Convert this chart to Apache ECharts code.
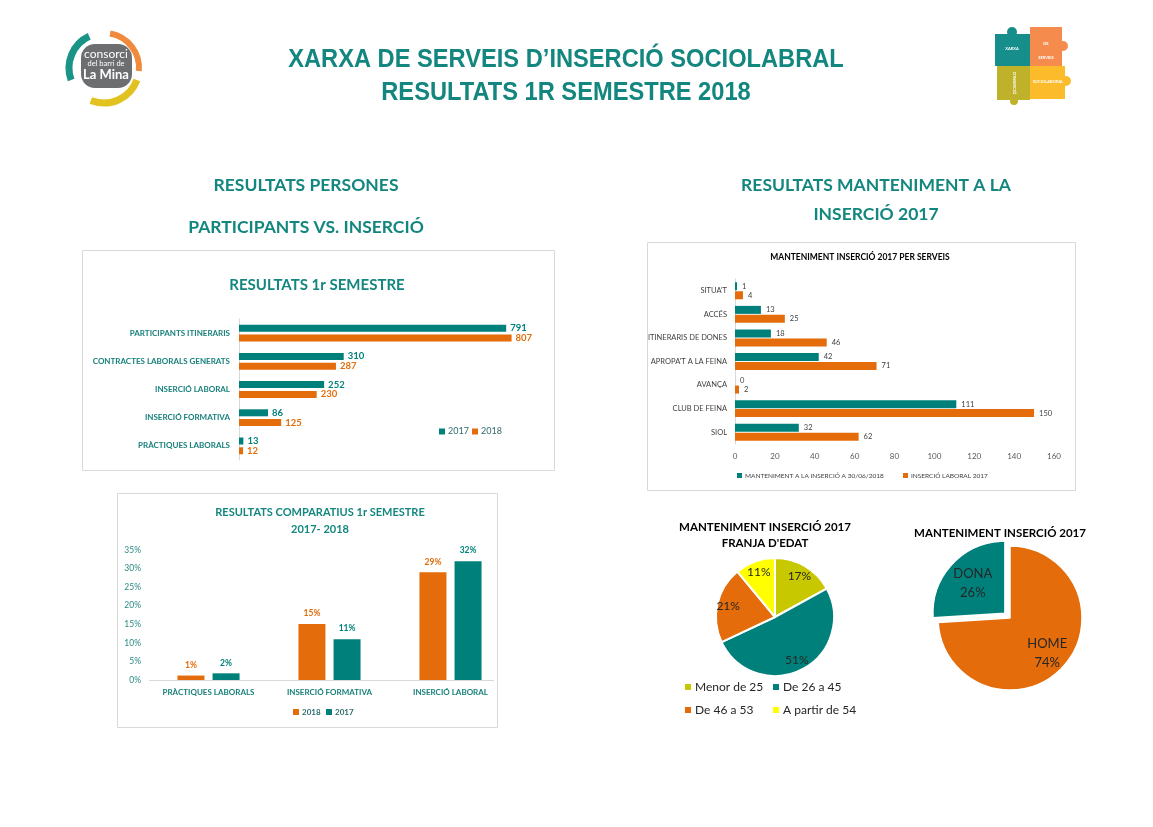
<!DOCTYPE html>
<html><head><meta charset="utf-8">
<script src="https://cdn.jsdelivr.net/npm/echarts@6/dist/echarts.min.js"></script>
<style>html,body{margin:0;padding:0;background:#fff}#c{width:1153px;height:827px}</style>
</head><body><div id="c"></div>
<script>
// ---- data ----
const resCategories = ['PARTICIPANTS ITINERARIS','CONTRACTES LABORALS GENERATS','INSERCIÓ LABORAL','INSERCIÓ FORMATIVA','PRÀCTIQUES LABORALS'];
const res2017 = [791, 310, 252, 86, 13];
const res2018 = [807, 287, 230, 125, 12];

const compCategories = ['PRÀCTIQUES LABORALS','INSERCIÓ FORMATIVA','INSERCIÓ LABORAL'];
const comp2018 = [1.2, 15.1, 29];
const comp2017 = [1.8, 11, 32];

const servCategories = ["SITUA'T",'ACCÉS','ITINERARIS DE DONES',"APROPA'T A LA FEINA",'AVANÇA','CLUB DE FEINA','SIOL'];
const servMant = [1, 13, 18, 42, 0, 111, 32];
const servIns = [4, 25, 46, 71, 2, 150, 62];
const servMantName = 'MANTENIMENT A LA INSERCIÓ A 30/06/2018';
const servInsName = 'INSERCIÓ LABORAL 2017';

const ageNames = ['Menor de 25','De 26 a 45','De 46 a 53','A partir de 54'];
const ageValues = [17, 51, 21, 11];
const genderNames = ['HOME','DONA'];
const genderValues = [74, 26];

// ---- styles ----
const TEAL = '#00807b';
const ORANGE = '#e46c0a';
const HEAD = '#13877f';
const F = 'Lato, "Open Sans", sans-serif';
const ageColors = ['#c8c800', TEAL, ORANGE, '#ffff00'];
const genderColors = [ORANGE, TEAL];

const chart = echarts.init(document.getElementById('c'), null, {renderer: 'canvas'});

function txt(x, y, text, size, color, weight, extra, props) {
  return Object.assign({type: 'text', x: x, y: y, silent: true,
    style: Object.assign({text: text, fontSize: size, fontFamily: F, fontWeight: weight || 'normal',
      fill: color, align: 'center', verticalAlign: 'middle'}, extra || {})}, props || {});
}
function box(x, y, w, h) {
  return {type: 'rect', silent: true, shape: {x: x + 0.5, y: y + 0.5, width: w, height: h},
    style: {fill: null, stroke: '#d9d9d9', lineWidth: 1}};
}
const NARROW = {fontFamily: '"Liberation Sans", Arial, sans-serif'};

const graphics = [
  // boxes
  box(82, 250, 472, 220), box(117, 493, 380, 234), box(647, 242, 428, 248),
  // main title
  txt(566, 60, 'XARXA DE SERVEIS D’INSERCIÓ SOCIOLABRAL', 26, HEAD, 'bold', NARROW, {scaleX: 0.91}),
  txt(566, 93, 'RESULTATS 1R SEMESTRE 2018', 26, HEAD, 'bold', NARROW, {scaleX: 0.91}),
  // section heads
  txt(306, 185, 'RESULTATS PERSONES', 17.5, HEAD, 'bold'),
  txt(306, 227, 'PARTICIPANTS VS. INSERCIÓ', 17.5, HEAD, 'bold'),
  txt(876, 185, 'RESULTATS MANTENIMENT A LA', 17.5, HEAD, 'bold'),
  txt(876, 214, 'INSERCIÓ 2017', 17.5, HEAD, 'bold'),
  // chart titles
  txt(317, 285, 'RESULTATS 1r SEMESTRE', 15, HEAD, 'bold'),
  txt(320, 512, 'RESULTATS COMPARATIUS 1r SEMESTRE', 11, HEAD, 'bold'),
  txt(320, 529, '2017- 2018', 11, HEAD, 'bold'),
  txt(860, 257, 'MANTENIMENT INSERCIÓ 2017 PER SERVEIS', 8.5, '#000', 'bold'),
  txt(765, 527, 'MANTENIMENT INSERCIÓ 2017', 11.5, '#000', 'bold'),
  txt(765, 543, "FRANJA D'EDAT", 11.5, '#000', 'bold'),
  txt(1000, 533, 'MANTENIMENT INSERCIÓ 2017', 11.5, '#000', 'bold'),
  // chart 2 baseline
  {type: 'line', silent: true, shape: {x1: 149, y1: 680.5, x2: 494, y2: 680.5}, style: {stroke: '#d9d9d9', lineWidth: 1}},
  // logo
  {type: 'arc', silent: true, shape: {cx: 104, cy: 68, r: 35, startAngle: 160 * Math.PI / 180, endAngle: 245 * Math.PI / 180}, style: {stroke: '#1b9488', lineWidth: 7, fill: null}},
  {type: 'arc', silent: true, shape: {cx: 104, cy: 68, r: 35, startAngle: 280 * Math.PI / 180, endAngle: 365 * Math.PI / 180}, style: {stroke: '#f08a3c', lineWidth: 6, fill: null}},
  {type: 'arc', silent: true, shape: {cx: 104, cy: 68, r: 35, startAngle: 20 * Math.PI / 180, endAngle: 112 * Math.PI / 180}, style: {stroke: '#e2c21f', lineWidth: 7, fill: null}},
  {type: 'rect', silent: true, shape: {x: 81, y: 44, width: 51, height: 44, r: 14}, style: {fill: '#6d6e70'}},
  txt(106, 54, 'consorci', 12, '#fff', 'normal'),
  txt(106, 64, 'del barri de', 7.5, '#fff', 'normal'),
  txt(106, 75, 'La Mina', 13, '#fff', 'bold'),
  // puzzle
  {type: 'rect', silent: true, shape: {x: 995, y: 34, width: 35, height: 32}, style: {fill: '#168f8c'}},
  {type: 'circle', silent: true, shape: {cx: 1012, cy: 32, r: 5}, style: {fill: '#168f8c'}},
  {type: 'rect', silent: true, shape: {x: 1030, y: 27, width: 32, height: 39}, style: {fill: '#f58b4c'}},
  {type: 'circle', silent: true, shape: {cx: 1063, cy: 46, r: 5}, style: {fill: '#f58b4c'}},
  {type: 'rect', silent: true, shape: {x: 997, y: 66, width: 33, height: 34}, style: {fill: '#bfb22a'}},
  {type: 'circle', silent: true, shape: {cx: 1014, cy: 101, r: 4}, style: {fill: '#bfb22a'}},
  {type: 'rect', silent: true, shape: {x: 1030, y: 66, width: 35, height: 33}, style: {fill: '#fbbb2b'}},
  {type: 'circle', silent: true, shape: {cx: 1066, cy: 81, r: 5}, style: {fill: '#fbbb2b'}},
  txt(1012, 49, 'XARXA', 4, '#fff', 'bold'),
  txt(1046, 44, 'DE', 4, '#fff', 'bold'),
  txt(1046, 58, 'SERVEIS', 4, '#fff', 'bold'),
  txt(1048, 82, 'SOCIOLABORAL', 4, '#fff', 'bold'),
  {type: 'text', silent: true, x: 1014, y: 83, rotation: -Math.PI / 2,
    style: {text: "D'INSERCIÓ", fontSize: 4, fontFamily: F, fontWeight: 'bold', fill: '#fff', align: 'center', verticalAlign: 'middle'}}
];

function legendItem(name, left, top, size, color, weight, iconSize, col) {
  return {data: [{name: name, itemStyle: {color: col}}], left: left, top: top, orient: 'horizontal',
    icon: 'rect', itemWidth: iconSize, itemHeight: iconSize, itemGap: 6, padding: 0,
    selectedMode: false,
    textStyle: {fontSize: size, color: color, fontFamily: F, fontWeight: weight, padding: [0, 0, 0, -2]}};
}

const option = {
  backgroundColor: '#fff',
  animation: false,
  graphic: {elements: graphics},
  legend: [
    legendItem('2017', 439, 427, 9, '#2f6b6b', 'normal', 6, TEAL),
    legendItem('2018', 472, 427, 9, '#2f6b6b', 'normal', 6, ORANGE),
    legendItem('2018', 293, 708, 8, '#2f6b6b', 'bold', 6, ORANGE),
    legendItem('2017', 326, 708, 8, '#2f6b6b', 'bold', 6, TEAL),
    legendItem(servMantName, 737, 472, 6.5, '#404040', 'normal', 5, TEAL),
    legendItem(servInsName, 903, 472, 6.5, '#404040', 'normal', 5, ORANGE),
    legendItem(ageNames[0], 683, 681, 12, '#262626', 'normal', 8, ageColors[0]),
    legendItem(ageNames[1], 771, 681, 12, '#262626', 'normal', 8, ageColors[1]),
    legendItem(ageNames[2], 683, 704, 12, '#262626', 'normal', 8, ageColors[2]),
    legendItem(ageNames[3], 771, 704, 12, '#262626', 'normal', 8, ageColors[3])
  ],
  grid: [
    {left: 239, top: 319, width: 304, height: 141, containLabel: false, outerBoundsMode: 'none'},
    {left: 148, top: 550, width: 363, height: 130, containLabel: false, outerBoundsMode: 'none'},
    {left: 735, top: 279, width: 319, height: 165, containLabel: false, outerBoundsMode: 'none'}
  ],
  xAxis: [
    {gridIndex: 0, type: 'value', min: 0, max: 900, show: false},
    {gridIndex: 1, type: 'category', data: compCategories, axisLine: {show: false}, axisTick: {show: false},
      axisLabel: {fontSize: 8, fontWeight: 'bold', color: '#17807a', fontFamily: F, margin: 8, interval: 0}},
    {gridIndex: 2, type: 'value', min: 0, max: 160, interval: 20, axisLine: {show: false}, axisTick: {show: false},
      splitLine: {show: false}, axisLabel: {fontSize: 8, color: '#595959', fontFamily: F, margin: 8}}
  ],
  yAxis: [
    {gridIndex: 0, type: 'category', data: resCategories, inverse: true,
      axisLine: {show: true, lineStyle: {color: '#d9d9d9'}}, axisTick: {show: false},
      axisLabel: {fontSize: 8, fontWeight: 'bold', color: '#17807a', fontFamily: F, margin: 9, interval: 0}},
    {gridIndex: 1, type: 'value', min: 0, max: 35, interval: 5, axisLine: {show: false}, axisTick: {show: false},
      splitLine: {show: false},
      axisLabel: {fontSize: 8.5, color: '#2a8a84', fontFamily: F, margin: 7, formatter: '{value}%'}},
    {gridIndex: 2, type: 'category', data: servCategories, inverse: true,
      axisLine: {show: true, lineStyle: {color: '#d9d9d9'}}, axisTick: {show: false},
      axisLabel: {fontSize: 7.5, color: '#404040', fontFamily: F, margin: 8, interval: 0}}
  ],
  series: [
    {name: '2017', type: 'bar', xAxisIndex: 0, yAxisIndex: 0, data: res2017, barWidth: 7, barGap: '40%',
      itemStyle: {color: TEAL},
      label: {show: true, position: 'right', distance: 4, fontSize: 9.5, fontWeight: 'bold', color: TEAL, fontFamily: F}},
    {name: '2018', type: 'bar', xAxisIndex: 0, yAxisIndex: 0, data: res2018, barWidth: 7, barGap: '40%',
      itemStyle: {color: ORANGE},
      label: {show: true, position: 'right', distance: 4, fontSize: 9.5, fontWeight: 'bold', color: ORANGE, fontFamily: F}},
    {name: '2018', type: 'bar', xAxisIndex: 1, yAxisIndex: 1, data: comp2018, barWidth: 27, barGap: '30%',
      itemStyle: {color: ORANGE},
      label: {show: true, position: 'top', distance: 6, fontSize: 8.5, fontWeight: 'bold', color: ORANGE, fontFamily: F,
        formatter: p => Math.round(p.value) + '%'}},
    {name: '2017', type: 'bar', xAxisIndex: 1, yAxisIndex: 1, data: comp2017, barWidth: 27, barGap: '30%',
      itemStyle: {color: TEAL},
      label: {show: true, position: 'top', distance: 6, fontSize: 8.5, fontWeight: 'bold', color: TEAL, fontFamily: F,
        formatter: p => Math.round(p.value) + '%'}},
    {name: servMantName, type: 'bar', xAxisIndex: 2, yAxisIndex: 2, data: servMant, barWidth: 8, barGap: '12%',
      itemStyle: {color: TEAL},
      label: {show: true, position: 'right', distance: 5, fontSize: 7.5, color: '#404040', fontFamily: F}},
    {name: servInsName, type: 'bar', xAxisIndex: 2, yAxisIndex: 2, data: servIns, barWidth: 8, barGap: '12%',
      itemStyle: {color: ORANGE},
      label: {show: true, position: 'right', distance: 5, fontSize: 7.5, color: '#404040', fontFamily: F}},
    {name: 'edat', type: 'pie', center: [775, 617], radius: [0, 59], startAngle: 90, clockwise: true,
      data: ageNames.map((n, i) => ({name: n, value: ageValues[i], itemStyle: {color: ageColors[i]}})),
      itemStyle: {borderColor: '#fff', borderWidth: 2}, label: {show: false}, labelLine: {show: false}, silent: true},
    {name: 'edatLabels', type: 'pie', z: 4, center: [775, 617], radius: [31, 59], startAngle: 90, clockwise: true,
      data: ageNames.map((n, i) => ({name: n, value: ageValues[i]})),
      itemStyle: {color: 'rgba(0,0,0,0)', borderWidth: 0}, silent: true,
      label: {show: true, position: 'inside', formatter: '{c}%', fontSize: 12, color: '#262626', fontFamily: F}},
    {name: 'genere', type: 'pie', center: [1010, 618], radius: [0, 72], startAngle: 90, clockwise: true,
      selectedMode: 'single', selectedOffset: 7,
      data: genderNames.map((n, i) => ({name: n, value: genderValues[i], selected: n === 'DONA', itemStyle: {color: genderColors[i]}})),
      itemStyle: {borderColor: '#fff', borderWidth: 1.5}, label: {show: false}, labelLine: {show: false}, silent: true},
    {name: 'genereLabels', type: 'pie', z: 4, center: [1010, 618], radius: [24, 72], startAngle: 90, clockwise: true,
      data: genderNames.map((n, i) => ({name: n, value: genderValues[i]})),
      itemStyle: {color: 'rgba(0,0,0,0)', borderWidth: 0}, silent: true,
      label: {show: true, position: 'inside', formatter: '{b}\n{c}%', fontSize: 13, lineHeight: 19, color: '#262626', fontFamily: F}}
  ]
};
chart.setOption(option);
</script>
</body></html>
